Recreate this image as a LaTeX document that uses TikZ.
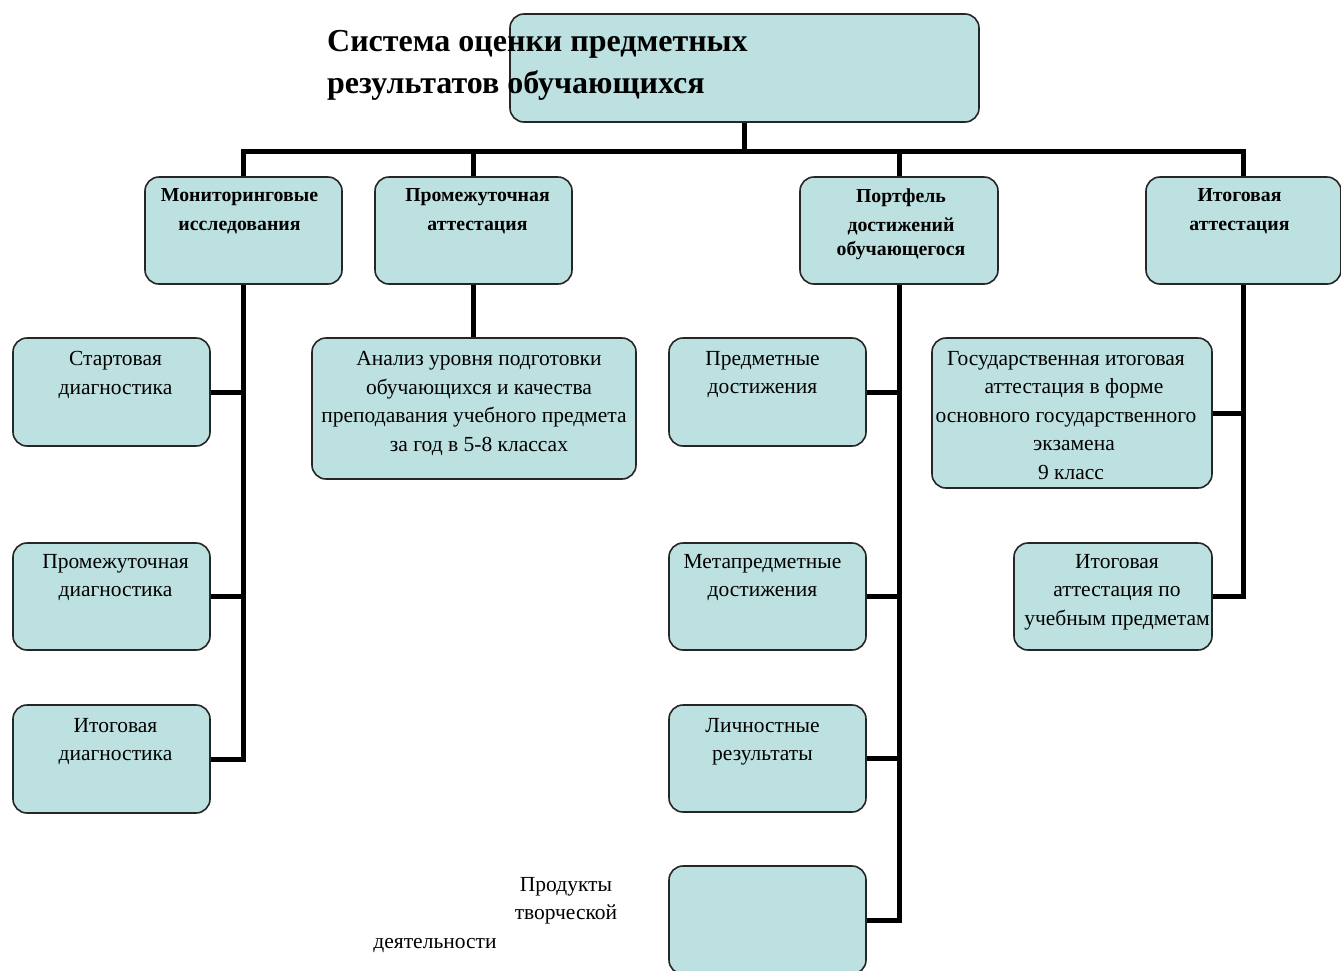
\documentclass[tikz,border=0pt]{standalone}
\usepackage{fontspec}
\setmainfont{Liberation Serif}
\definecolor{boxfill}{RGB}{189,224,224}
\tikzset{
  box/.style={draw=black!85, line width=1.6pt, fill=boxfill, rounded corners=14pt,
    inner sep=0pt, minimum width=#1},
  box/.default=197pt,
  head/.style={anchor=north, align=center, inner sep=0pt,
    font=\fontsize{19.8}{29}\selectfont\bfseries},
  txt/.style={anchor=north, align=center, inner sep=0pt,
    font=\fontsize{21.5}{28.5}\selectfont},
  link/.style={line width=5pt, black}
}
\begin{document}
\begin{tikzpicture}[x=1pt,y=-1pt]
\useasboundingbox (0,0) rectangle (1341,970);

% root and title
\node[box=469pt, minimum height=108pt] (root) at (744.5,68) {};
\node[anchor=north west, inner sep=0pt, align=left,
  font=\fontsize{32}{42}\selectfont\bfseries] (title) at (327,30)
  {Система оценки предметных\\результатов обучающихся};

% first level
\node[box, minimum height=107pt] (mon) at (243.5,230.5) {};
\node[box, minimum height=107pt] (prom) at (473.5,230.5) {};
\node[box=198pt, minimum height=107pt] (port) at (899,230.5) {};
\node[box=195pt, minimum height=107pt] (itog) at (1243.5,230.5) {};
\node[head] (monT) at ([xshift=-4pt,yshift=-12pt]mon.north) {Мониторинговые\\исследования};
\node[head] (promT) at ([xshift=4pt,yshift=-12pt]prom.north) {Промежуточная\\аттестация};
\node[head] (portT) at ([xshift=2pt,yshift=-12pt]port.north) {Портфель\\достижений\\[-5pt]обучающегося};
\node[head] (itogT) at ([xshift=-4pt,yshift=-12pt]itog.north) {Итоговая\\аттестация};

% second level
\node[box, minimum height=108pt] (start) at (111.5,392) {};
\node[box, minimum height=107pt] (promd) at (111.5,596.5) {};
\node[box, minimum height=108pt] (itogd) at (111.5,759) {};
\node[box=324pt, minimum height=141pt] (anal) at (474,408.5) {};
\node[box, minimum height=108pt] (pred) at (767.5,392) {};
\node[box, minimum height=107pt] (meta) at (767.5,596.5) {};
\node[box, minimum height=107pt] (lich) at (767.5,758.5) {};
\node[box, minimum height=108pt] (empty) at (767.5,920) {};
\node[box=280pt, minimum height=150pt] (gia) at (1072,413) {};
\node[box=198pt, minimum height=107pt] (itogp) at (1113,596.5) {};

\node[txt] (startT) at ([xshift=4pt,yshift=-14pt]start.north) {Стартовая\\диагностика};
\node[txt] (promdT) at ([xshift=4pt,yshift=-12pt]promd.north) {Промежуточная\\диагностика};
\node[txt] (itogdT) at ([xshift=4pt,yshift=-14pt]itogd.north) {Итоговая\\диагностика};
\node[txt] (analT) at ([yshift=-14pt]anal.north)
  {\hspace*{10pt}Анализ уровня подготовки\\\hspace*{10pt}обучающихся и качества\\преподавания учебного предмета\\\hspace*{10pt}за год в 5-8 классах};
\node[txt] (predT) at ([xshift=-5pt,yshift=-14pt]pred.north) {Предметные\\достижения};
\node[txt] (metaT) at ([xshift=-5pt,yshift=-12pt]meta.north) {Метапредметные\\достижения};
\node[txt] (lichT) at ([xshift=-5pt,yshift=-14pt]lich.north) {Личностные\\результаты};
\node[txt] (giaT) at ([xshift=-6pt,yshift=-14pt]gia.north)
  {Государственная итоговая\\\hspace*{16pt}аттестация в форме\\основного государственного\\\hspace*{16pt}экзамена\\\hspace*{10pt}9 класс};
\node[txt] (itogpT) at ([xshift=4pt,yshift=-12pt]itogp.north) {Итоговая\\аттестация по\\учебным предметам};
\node[txt] (prodT) at (566,877) {Продукты\\творческой};
\node[txt] (deyatT) at (435,938) {деятельности};

% connectors
\coordinate (bus) at ([yshift=-29pt]root.south);
\draw[link] (root.south) -- (bus);
\draw[link] (mon.north) -- (mon.north |- bus) -- (itog.north |- bus) -- (itog.north);
\draw[link] (prom.north) -- (prom.north |- bus);
\draw[link] (port.north) -- (port.north |- bus);

\draw[link] (mon.south) |- (itogd.east);
\draw[link] (start.east) -- (start.east -| mon.south);
\draw[link] (promd.east) -- (promd.east -| mon.south);

\draw[link] (prom.south) -- (prom.south |- anal.north);

\draw[link] (port.south) |- (empty.east);
\draw[link] (pred.east) -- (pred.east -| port.south);
\draw[link] (meta.east) -- (meta.east -| port.south);
\draw[link] (lich.east) -- (lich.east -| port.south);

\draw[link] (itog.south) |- (itogp.east);
\draw[link] (gia.east) -- (gia.east -| itog.south);
\end{tikzpicture}
\end{document}
